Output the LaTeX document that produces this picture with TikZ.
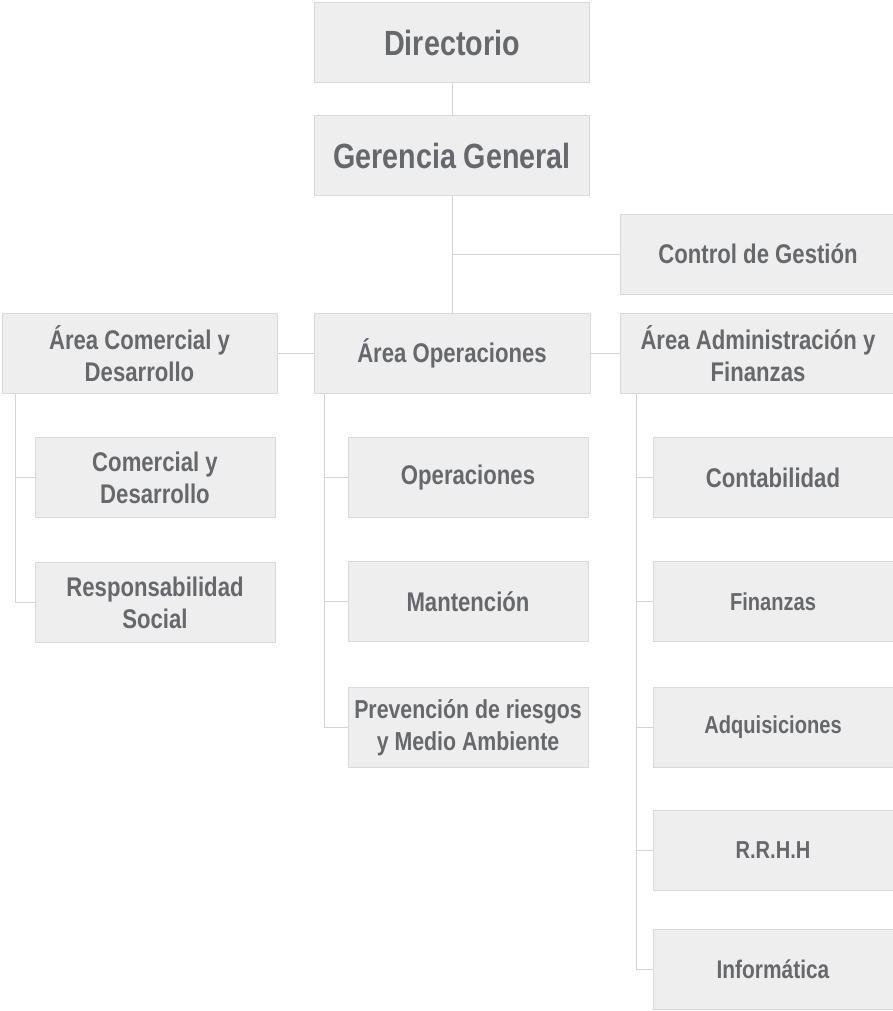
\documentclass[tikz,border=0pt]{standalone}
\usepackage{fontspec}
\setmainfont{Liberation Sans}[FakeStretch=0.82]
\usepackage{xcolor}
\usetikzlibrary{positioning}

\definecolor{boxfill}{HTML}{EEEEEE}
\definecolor{boxline}{HTML}{D9D9D9}
\definecolor{linkline}{HTML}{D3D3D3}
\definecolor{textgray}{HTML}{67686B}

\tikzset{
    unit/.style={draw=boxline, fill=boxfill, line width=1pt, inner sep=0pt, outer sep=0pt,
        align=center, text=textgray, font=\bfseries\fontsize{27}{32}\selectfont},
    topunit/.style={unit, minimum width=275pt, minimum height=80pt,
        font=\bfseries\fontsize{35}{38}\selectfont},
    areaunit/.style={unit, minimum width=276pt, minimum height=80pt},
    subunit/.style={unit, minimum width=240pt, minimum height=80pt},
    smallunit/.style={subunit, font=\bfseries\fontsize{24.5}{28}\selectfont},
    link/.style={draw=linkline, line width=1pt}
}

\begin{document}
\begin{tikzpicture}[x=1pt, y=-1pt]

        \def\d{44pt}

        \useasboundingbox (0,0) rectangle (893,1011);

        % Direction and main areas
        \node (DIR) [topunit] at (452, 43) {Directorio};
        \node (GER) [topunit] at (452, 155.5) {Gerencia General};
        \node (CTL) [areaunit] at (758, 254) {Control de Gestión};

        \node (ACD) [areaunit, minimum width=275pt] at (139.5, 353.5) {Área Comercial y\\Desarrollo};
        \node (AOP) [areaunit] at (452, 353.5) {Área Operaciones};
        \node (AAF) [areaunit] at (758, 353.5) {Área Administración y\\Finanzas};

        % Left column
        \node (CYD) [subunit, below right=\d and 33pt of ACD.south west] {Comercial y\\Desarrollo};
        \node (RSO) [subunit, below=45pt of CYD] {Responsabilidad\\Social};

        % Middle column
        \node (OPE) [subunit, below right=\d and 34pt of AOP.south west] {Operaciones};
        \node (MAN) [subunit, below=\d of OPE] {Mantención};
        \node (PRV) [subunit, below=46pt of MAN, font=\bfseries\fontsize{26}{32}\selectfont] {Prevención de riesgos\\y Medio Ambiente};

        % Right column
        \node (CON) [subunit, below right=\d and 33pt of AAF.south west] {Contabilidad};
        \node (FIN) [smallunit, below=\d of CON] {Finanzas};
        \node (ADQ) [smallunit, below=46pt of FIN] {Adquisiciones};
        \node (RRH) [smallunit, below=43pt of ADQ] {R.R.H.H};
        \node (INF) [subunit, below=39pt of RRH, font=\bfseries\fontsize{25.5}{28}\selectfont] {Informática};

        % Trunks of the columns
        \coordinate (jctl) at (GER.south |- CTL.west);
        \coordinate (tl) at ([xshift=13pt]ACD.south west);
        \coordinate (tm) at ([xshift=10pt]AOP.south west);
        \coordinate (tr) at ([xshift=16pt]AAF.south west);

        \begin{scope}[link]
            \draw (DIR) -- (GER);
            \draw (GER) -- (AOP);
            \draw (jctl) -- (CTL.west);
            \draw (ACD) -- (AOP);
            \draw (AOP) -- (AAF);

            \draw (tl) |- (RSO.west);
            \draw (tl |- CYD.west) -- (CYD.west);

            \draw (tm) |- (PRV.west);
            \draw (tm |- OPE.west) -- (OPE.west);
            \draw (tm |- MAN.west) -- (MAN.west);

            \draw (tr) |- (INF.west);
            \draw (tr |- CON.west) -- (CON.west);
            \draw (tr |- FIN.west) -- (FIN.west);
            \draw (tr |- ADQ.west) -- (ADQ.west);
            \draw (tr |- RRH.west) -- (RRH.west);
        \end{scope}

\end{tikzpicture}
\end{document}
